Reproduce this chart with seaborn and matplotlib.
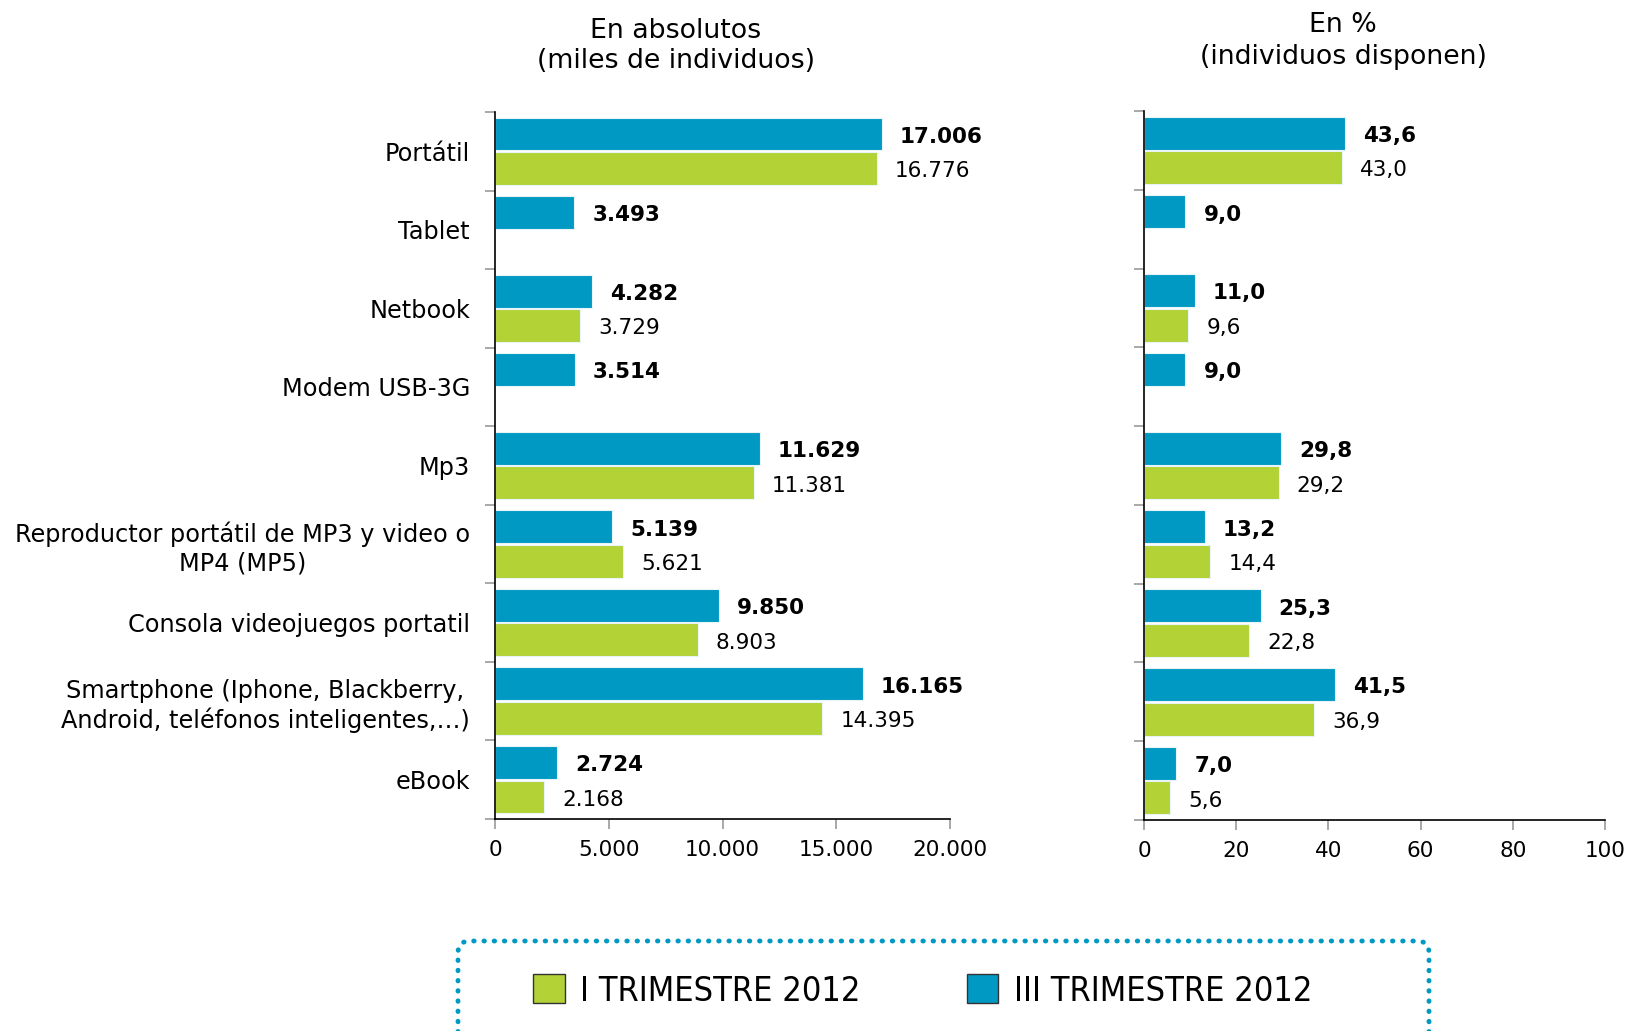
import numpy as np
import pandas as pd
import matplotlib
matplotlib.use("Agg")
import matplotlib.pyplot as plt
import seaborn as sns
from matplotlib.patches import FancyBboxPatch, Patch
from matplotlib.transforms import IdentityTransform
from matplotlib.ticker import FixedLocator

# ---------------- data ----------------
categories = [
    "Portátil",
    "Tablet",
    "Netbook",
    "Modem USB-3G",
    "Mp3",
    "Reproductor portátil de MP3 y video o\nMP4 (MP5)",
    "Consola videojuegos portatil",
    "Smartphone (Iphone, Blackberry,\nAndroid, teléfonos inteligentes,…)",
    "eBook",
]
series = ["III TRIMESTRE 2012", "I TRIMESTRE 2012"]
abs_iii = [17006, 3493, 4282, 3514, 11629, 5139, 9850, 16165, 2724]
abs_i = [16776, np.nan, 3729, np.nan, 11381, 5621, 8903, 14395, 2168]
pct_iii = [43.6, 9.0, 11.0, 9.0, 29.8, 13.2, 25.3, 41.5, 7.0]
pct_i = [43.0, np.nan, 9.6, np.nan, 29.2, 14.4, 22.8, 36.9, 5.6]
abs_ticks = [0, 5000, 10000, 15000, 20000]
abs_tick_labels = ["0", "5.000", "10.000", "15.000", "20.000"]
pct_ticks = [0, 20, 40, 60, 80, 100]
pct_tick_labels = ["0", "20", "40", "60", "80", "100"]
title_abs = "En absolutos\n(miles de individuos)"
title_pct = "En %\n(individuos disponen)"
legend_order = ["I TRIMESTRE 2012", "III TRIMESTRE 2012"]

BLUE = "#0099C4"
GREEN = "#B2D235"
palette = {series[0]: BLUE, series[1]: GREEN}

sns.set_theme(style="white")
plt.rcParams["font.family"] = ["DejaVu Sans"]

W, H = 1627, 1031
fig = plt.figure(figsize=(W / 100, H / 100), dpi=100)


def make_df(v3, v1):
    return pd.DataFrame({
        "cat": categories * 2,
        "serie": [series[0]] * len(categories) + [series[1]] * len(categories),
        "val": list(v3) + list(v1),
    })


def fmt_abs(v):
    return f"{v:,.0f}".replace(",", ".")


def fmt_pct(v):
    return f"{v:.1f}".replace(".", ",")


def draw(ax, df, ticks, ticklabels, xmax, fmt, show_labels):
    sns.barplot(data=df, y="cat", x="val", hue="serie", hue_order=series,
                order=categories, palette=palette, orient="h", width=0.88,
                gap=0.05, saturation=1, edgecolor="#E8F4F8", linewidth=0.8,
                ax=ax, legend=False)
    ax.set_xlim(0, xmax)
    ax.set_ylim(len(categories) - 0.5, -0.5)
    ax.set_xlabel("")
    ax.set_ylabel("")
    for s in ["top", "right"]:
        ax.spines[s].set_visible(False)
    for s in ["left", "bottom"]:
        ax.spines[s].set_color("black")
        ax.spines[s].set_linewidth(1.2)
    ax.set_xticks(ticks)
    ax.set_xticklabels(ticklabels, fontsize=15.5, color="black")
    ax.tick_params(axis="x", bottom=True, length=7, width=1.2, color="#9a9a9a", pad=8)
    ax.set_yticks(range(len(categories)))
    if show_labels:
        ax.set_yticklabels(categories, fontsize=17.3, color="black",
                           multialignment="center", linespacing=1.2)
    else:
        ax.set_yticklabels([])
    ax.tick_params(axis="y", which="major", left=False, length=0, pad=18)
    ax.yaxis.set_minor_locator(FixedLocator(np.arange(-0.5, len(categories), 1.0)))
    ax.tick_params(axis="y", which="minor", left=True, length=7, width=1.2,
                   color="#9a9a9a")
    # value labels from the drawn bars
    for ci, cont in enumerate(ax.containers):
        for bar in cont:
            w = bar.get_width()
            if w is None or not np.isfinite(w) or w == 0:
                continue
            yc = bar.get_y() + bar.get_height() / 2
            ax.annotate(fmt(w), xy=(w, yc), xytext=(13, -2),
                        textcoords="offset points", va="center", ha="left",
                        fontsize=15.5, color="black",
                        fontweight="bold" if ci == 0 else "normal")


ax1 = fig.add_axes([495 / W, 1 - 819 / H, (950 - 495) / W, (819 - 112) / H])
draw(ax1, make_df(abs_iii, abs_i), abs_ticks, abs_tick_labels, 20000, fmt_abs, True)

ax2 = fig.add_axes([1144 / W, 1 - 820 / H, (1605 - 1144) / W, (820 - 111) / H])
draw(ax2, make_df(pct_iii, pct_i), pct_ticks, pct_tick_labels, 100, fmt_pct, False)

fig.text(676 / W, 1 - 46 / H, title_abs, ha="center", va="center", fontsize=19.3,
         color="black", linespacing=1.25)
fig.text(1343 / W, 1 - 41 / H, title_pct, ha="center", va="center", fontsize=19.3,
         color="black", linespacing=1.25)

# dotted legend frame (extends past the bottom edge)
frame = FancyBboxPatch((458, -60), 1429 - 458, (1031 - 941) + 60,
                       boxstyle="round,pad=0,rounding_size=12",
                       transform=IdentityTransform(), facecolor="none",
                       edgecolor=BLUE, linewidth=3.5,
                       linestyle=(0, (0.1, 2.0)))
frame.set_capstyle("round")
fig.add_artist(frame)

handles = [Patch(facecolor=palette[s], edgecolor="#333333", linewidth=1.0, label=s)
           for s in legend_order]
leg = fig.legend(handles=handles, loc="center left",
                 bbox_to_anchor=(533 / W, 1 - 991 / H), ncol=2, frameon=False,
                 borderpad=0, borderaxespad=0, handlelength=0.93,
                 handleheight=0.93, handletextpad=0.45, columnspacing=3.1,
                 prop={"family": ["DejaVu Sans"], "stretch": "condensed", "size": 24.6})
for t in leg.get_texts():
    t.set_color("black")

fig.savefig("out.png", dpi=100)
